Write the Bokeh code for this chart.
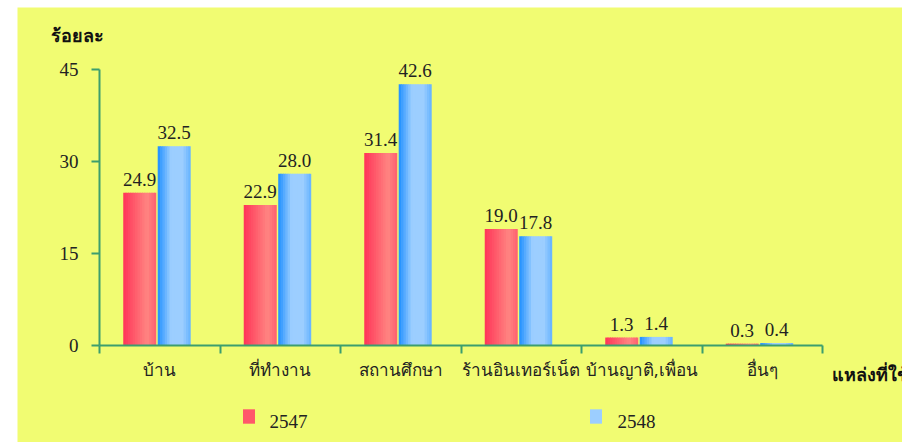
from bokeh.plotting import figure
from bokeh.models import (ColumnDataSource, Range1d, FixedTicker, Label, LabelSet,
                          Legend, LegendItem)
from bokeh.core.properties import value
from bokeh.embed import file_html
from bokeh.resources import INLINE

# ---------------- data ----------------
categories = ["บ้าน", "ที่ทำงาน", "สถานศึกษา", "ร้านอินเทอร์เน็ต", "บ้านญาติ,เพื่อน", "อื่นๆ"]
series_names = ["2547", "2548"]
values_2547 = [24.9, 22.9, 31.4, 19.0, 1.3, 0.3]
values_2548 = [32.5, 28.0, 42.6, 17.8, 1.4, 0.4]
y_ticks = [0, 15, 30, 45]
y_title = "ร้อยละ"
x_title = "แหล่งที่ใช้"

# ---------------- style / layout ----------------
BG = "#F1FC72"
AXIS = "#3C9E6E"
TXT = "#222222"
NUM_FONT = "Liberation Serif"
dark_cols = [(255, 52, 88), (30, 143, 255)]
light_cols = [(255, 130, 128), (156, 206, 255)]
rise = [0.7, 0.4]
legend_slice = [4, 7]
offsets = [-0.166, 0.12]
bar_w = 0.274
NS = 14

W, H = 885, 435          # canvas size (page offset 17, 7)
LEFT, TOP = 17, 7
AX_X0, AX_X1 = 99, 822   # page x of category axis ends
AX_Y0, AX_Y1 = 345, 69   # page y of 0 and 45
LEG_GLYPH_X = [241, 588]
LEG_TEXT_X = [269, 617]

n = len(categories)
ymax = y_ticks[-1]
xpx = (AX_X1 - AX_X0) / n
ypx = (AX_Y0 - AX_Y1) / ymax
x_start = (LEFT - AX_X0) / xpx
x_end = n + (LEFT + W - AX_X1) / xpx
y_end = ymax + (AX_Y1 - TOP) / ypx
y_start = -(TOP + H - AX_Y0) / ypx

p = figure(width=W, height=H, output_backend="svg", toolbar_location=None,
           x_range=Range1d(x_start, x_end), y_range=Range1d(y_start, y_end),
           min_border=0, background_fill_color=BG, border_fill_color=BG,
           outline_line_color=None, margin=(TOP, 0, 0, LEFT))
p.grid.visible = False

# x axis: labels at centres, ticks at category boundaries
xa = p.xaxis[0]
xa.fixed_location = 0
xa.bounds = (0, n)
xa.ticker = FixedTicker(ticks=[i + 0.5 for i in range(n)], minor_ticks=list(range(n + 1)))
xa.major_label_overrides = {i + 0.5: c for i, c in enumerate(categories)}
xa.major_tick_out = 0
xa.major_tick_in = 0
xa.minor_tick_out = 8
xa.minor_tick_in = 0
xa.minor_tick_line_color = AXIS
xa.minor_tick_line_width = 2
xa.axis_line_color = AXIS
xa.axis_line_width = 2
xa.major_label_standoff = 4
xa.major_label_text_font_size = "17px"
xa.major_label_text_color = TXT
xa.major_label_text_font = "Noto Sans"

ya = p.yaxis[0]
ya.fixed_location = 0
ya.bounds = (0, ymax)
ya.ticker = FixedTicker(ticks=y_ticks, minor_ticks=[])
ya.major_tick_out = 8
ya.major_tick_in = 0
ya.major_tick_line_color = AXIS
ya.major_tick_line_width = 2
ya.axis_line_color = AXIS
ya.axis_line_width = 2
ya.major_label_standoff = 13
ya.major_label_text_font = NUM_FONT
ya.major_label_text_font_size = "19px"
ya.major_label_text_color = TXT


def shade(t, s):
    r = rise[s]
    if t < r:
        f = t / r
    elif t < 0.75:
        f = 1.0
    else:
        f = 1.0 - (t - 0.75) / 0.25 * 0.45
    d, l = dark_cols[s], light_cols[s]
    c = tuple(int(round(d[j] + (l[j] - d[j]) * f)) for j in range(3))
    return "#%02x%02x%02x" % c


series_vals = [values_2547, values_2548]
legend_renderers = []
for s, vals in enumerate(series_vals):
    centers = [i + 0.5 + offsets[s] for i in range(n)]
    sw = bar_w / NS
    for k in range(NS):
        t = (k + 0.5) / NS
        col = shade(t, s)
        left = [c - bar_w / 2 + k * sw for c in centers]
        right = [c - bar_w / 2 + (k + 1) * sw + (sw * 0.35 if k < NS - 1 else 0) for c in centers]
        src = ColumnDataSource(dict(left=left, right=right, top=vals, bottom=[0] * n))
        r = p.quad(left="left", right="right", top="top", bottom="bottom", source=src,
                   fill_color=col, line_color=None)
        if k == legend_slice[s]:
            legend_renderers.append(r)
    lsrc = ColumnDataSource(dict(x=centers, y=vals, t=[f"{v:.1f}" for v in vals]))
    p.add_layout(LabelSet(x="x", y="y", text="t", source=lsrc, text_align="center",
                          text_baseline="alphabetic", y_offset=7,
                          text_font=value(NUM_FONT), text_font_size="19px", text_color=TXT))

# legend swatches (glyph only); legend texts placed as labels
items = [LegendItem(label=" ", renderers=[legend_renderers[s]]) for s in range(len(series_names))]
legend = Legend(items=items, orientation="horizontal",
                location=(LEG_GLYPH_X[0] - LEFT, TOP + H - 425),
                padding=0, margin=0, spacing=LEG_GLYPH_X[1] - LEG_GLYPH_X[0] - 15,
                glyph_width=15, glyph_height=18, label_width=0, label_height=18,
                label_standoff=0, border_line_color=None, background_fill_alpha=0,
                label_text_font_size="1px")
p.add_layout(legend)
for s, name in enumerate(series_names):
    p.add_layout(Label(x=LEG_TEXT_X[s] - LEFT, y=TOP + H - 421, x_units="screen", y_units="screen",
                       text=name, text_font=NUM_FONT, text_font_size="19px", text_color=TXT,
                       text_baseline="alphabetic"))

p.add_layout(Label(x=50 - LEFT, y=TOP + H - 35, x_units="screen", y_units="screen", text=y_title,
                   text_font_style="bold", text_font_size="18px", text_color="#111111",
                   text_baseline="alphabetic"))
p.add_layout(Label(x=831 - LEFT, y=TOP + H - 374, x_units="screen", y_units="screen", text=x_title,
                   text_font_style="bold", text_font_size="18px", text_color="#111111",
                   text_baseline="alphabetic"))

open("out.html", "w").write(file_html(p, INLINE))
